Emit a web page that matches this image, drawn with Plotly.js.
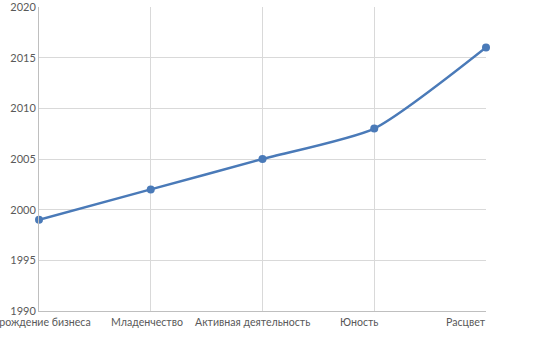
<!DOCTYPE html>
<html><head><meta charset="utf-8">
<script src="https://cdn.plot.ly/plotly-3.0.1.min.js"></script>
<style>html,body{margin:0;padding:0;background:#fff}#c{width:543px;height:341px}</style>
</head><body><div id="c"></div>
<script>
const categories = ["Зарождение бизнеса", "Младенчество", "Активная деятельность", "Юность", "Расцвет"];
const years = [1999, 2002, 2005, 2008, 2016];
const yTicks = [1990, 1995, 2000, 2005, 2010, 2015, 2020];
// horizontal nudges of the category labels (style only)
const labelNudge = [0, -4, -10, -15, -20];

const xIdx = categories.map((c, i) => i);

const trace = {
  x: xIdx,
  y: years,
  type: 'scatter',
  mode: 'lines+markers',
  line: {color: '#4a7ab8', width: 2.5, shape: 'spline', smoothing: 0.6},
  marker: {color: '#4a7ab8', size: 8},
  cliponaxis: false,
  hoverinfo: 'skip'
};

const annotations = categories.map((c, i) => ({
  text: c, x: i, xref: 'x', y: 0, yref: 'paper',
  xanchor: 'center', yanchor: 'top', yshift: -3, xshift: labelNudge[i],
  showarrow: false, font: {family: 'Lato, sans-serif', size: 10.6, color: '#595959'}
}));

const layout = {
  width: 543, height: 341,
  margin: {l: 39, r: 57, t: 7, b: 30},
  paper_bgcolor: '#fff', plot_bgcolor: '#fff',
  font: {family: 'Lato, sans-serif', size: 11, color: '#595959'},
  showlegend: false,
  annotations: annotations,
  xaxis: {
    range: [0, 4], tickmode: 'array', tickvals: xIdx, showticklabels: false,
    showgrid: true, gridcolor: '#d9d9d9', gridwidth: 1,
    showline: true, linecolor: '#bfbfbf', linewidth: 1,
    ticks: '', zeroline: false, fixedrange: true
  },
  yaxis: {
    range: [1990, 2020], tickmode: 'array', tickvals: yTicks,
    showgrid: true, gridcolor: '#d9d9d9', gridwidth: 1,
    showline: true, linecolor: '#bfbfbf', linewidth: 1,
    ticks: '', zeroline: false, ticklabeloverflow: 'allow', fixedrange: true
  }
};
Plotly.newPlot('c', [trace], layout, {displayModeBar: false, staticPlot: true});
</script></body></html>
